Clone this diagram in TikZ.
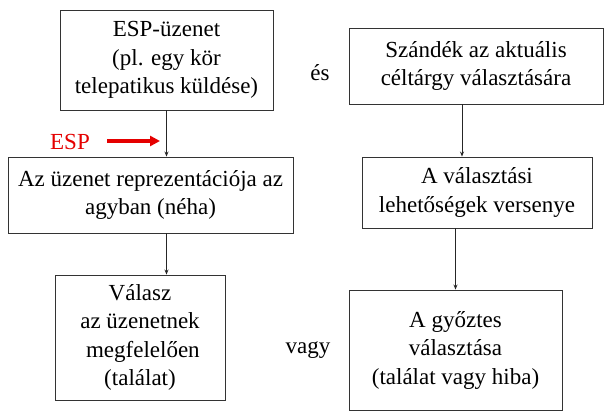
\documentclass[tikz,border=0pt]{standalone}
\usepackage{fontspec}
\setmainfont{Liberation Serif}
\usetikzlibrary{arrows.meta,calc}
\begin{document}
\begin{tikzpicture}[x=1pt,y=1pt,
  box/.style={draw=black!80,line width=0.9pt,align=center,inner sep=0pt,
    font=\fontsize{23}{28.5}\selectfont},
  lbl/.style={font=\fontsize{23}{28.5}\selectfont,inner sep=0pt},
  link/.style={draw=black!85,line width=0.8pt,-{Stealth[length=5pt,width=4pt]}},
  esparrow/.style={draw=red!90!black,line width=3.5pt,-{Triangle[length=10pt,width=10pt]}}]
\useasboundingbox (0,0) rectangle (605,-412);
\fill[white] (0,0) rectangle (605,-412);

% left column
\node[box,minimum width=213,minimum height=100] (A) at (166.5,-60)
  {ESP-üzenet\\(pl. egy kör\\telepatikus küldése)};
\node[box,minimum width=285,minimum height=76] (B) at (150.5,-195)
  {Az üzenet reprezentációja az\\agyban (néha)};
\node[box,minimum width=170,minimum height=125] (C) at (140,-337.5)
  {Válasz\\az üzenetnek\\\ megfelelően\\(találat)};

% right column
\node[box,minimum width=254,minimum height=76] (D) at (476,-66)
  {Szándék az aktuális\\céltárgy választására};
\node[box,minimum width=230,minimum height=71] (E) at (477,-192.5)
  {A választási\\lehetőségek versenye};
\node[box,minimum width=213,minimum height=120] (F) at (455.5,-350)
  {A győztes\\választása\\(találat vagy hiba)};

% connecting words
\node[lbl] (es) at (320,-73) {és};
\node[lbl] (vagy) at (308,-350) {vagy};

% red ESP marker
\node[lbl,text=red!90!black] (esp) at (70,-142) {ESP};
\coordinate (espend) at (160,-141);
\draw[esparrow] ([xshift=17pt,yshift=1pt]esp.east) -- (espend);

% flow arrows
\draw[link] (A.south) -- (A.south |- B.north);
\draw[link] (B.south -| A.south) -- (C.north -| A.south);
\draw[link] ([xshift=-14pt]D.south) -- ([xshift=-14pt]D.south |- E.north);
\draw[link] (E.south -| F.north) -- (F.north);
\end{tikzpicture}
\end{document}
